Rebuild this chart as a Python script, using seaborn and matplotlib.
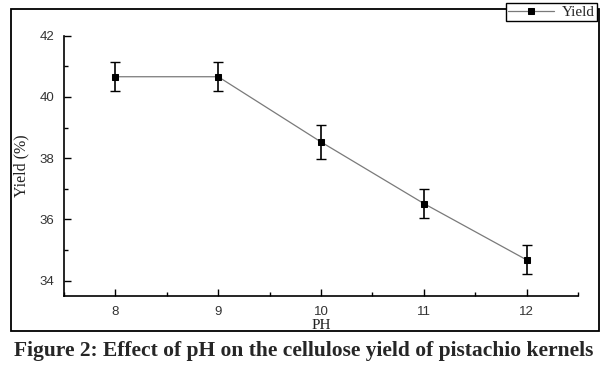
import matplotlib
matplotlib.use("Agg")
import matplotlib.pyplot as plt
import seaborn as sns
import pandas as pd
from matplotlib.patches import Rectangle
from matplotlib.ticker import MultipleLocator

ph = [8, 9, 10, 11, 12]
yield_pct = [40.66, 40.66, 38.53, 36.52, 34.68]
yield_err = [0.47, 0.47, 0.56, 0.47, 0.47]
x_ticks = [8, 9, 10, 11, 12]
y_ticks = [34, 36, 38, 40, 42]

df = pd.DataFrame({"PH": ph, "Yield": yield_pct})

sns.set_theme(style="ticks")
plt.rcParams["font.family"] = ["Liberation Sans", "DejaVu Sans"]

fig = plt.figure(figsize=(6.08, 3.68), dpi=100)
ax = fig.add_axes([64 / 608, 1 - 296 / 368, (578 - 64) / 608, (296 - 35.7) / 368])

ax.errorbar(ph, yield_pct, yerr=yield_err, fmt="none", ecolor="black",
            elinewidth=1.2, capsize=3.5, capthick=1.0, zorder=3)
sns.lineplot(data=df, x="PH", y="Yield", ax=ax, color="#7a7a7a", linewidth=0.9,
             marker="s", markersize=5, markerfacecolor="black",
             markeredgecolor="black", label="Yield", legend=False, zorder=4)

ax.set_xlim(7.5, 12.5)
ax.set_ylim(33.5, 42)
ax.set_xticks(x_ticks)
ax.set_yticks(y_ticks)
ax.xaxis.set_minor_locator(MultipleLocator(0.5))
ax.yaxis.set_minor_locator(MultipleLocator(1))
ax.tick_params(axis="both", which="major", direction="in", length=5, width=1,
               labelsize=9.5, labelcolor="#333333", pad=7, color="black")
ax.tick_params(axis="both", which="minor", direction="in", length=3, width=1,
               color="black")
for s in ["top", "right"]:
    ax.spines[s].set_visible(False)
for s in ["left", "bottom"]:
    ax.spines[s].set_linewidth(1.2)
    ax.spines[s].set_color("black")

ax.set_xlabel("PH", family=["Liberation Serif", "DejaVu Serif"], fontsize=11,
              color="#222222", labelpad=1)
ax.set_ylabel("Yield (%)", family=["Liberation Serif", "DejaVu Serif"], fontsize=11.5,
              color="#222222", labelpad=7)

handles, labels = ax.get_legend_handles_labels()
leg = fig.legend(handles, labels, loc="upper right",
                 bbox_to_anchor=(597 / 608, 1 - 3 / 368),
                 prop={"family": ["Liberation Serif", "DejaVu Serif"], "size": 11},
                 frameon=True, fancybox=False, framealpha=1, edgecolor="black",
                 borderpad=0.15, handlelength=3.0, handletextpad=0.5,
                 borderaxespad=0)
leg.get_frame().set_linewidth(1.0)
leg.set_zorder(10)

fig.patches.append(Rectangle((11 / 608, 1 - 331 / 368), (599 - 11) / 608,
                             (331 - 9) / 368, transform=fig.transFigure,
                             fill=False, edgecolor="black", linewidth=1.3,
                             zorder=5))

fig.text(0.5, 1 - 351 / 368,
         "Figure 2: Effect of pH on the cellulose yield of pistachio kernels",
         ha="center", va="center", fontsize=15.5, fontweight="bold",
         family=["Liberation Serif", "DejaVu Serif"])

fig.savefig("out.png", dpi=100)
